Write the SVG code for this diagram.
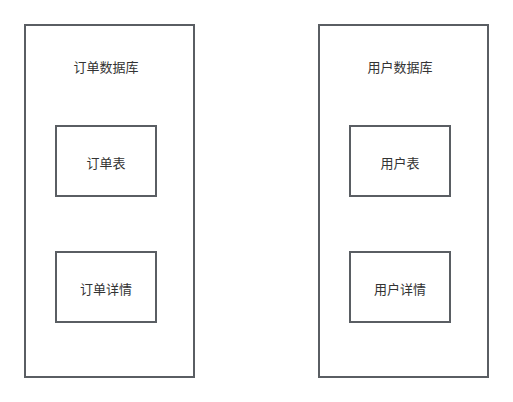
<svg xmlns="http://www.w3.org/2000/svg" width="513" height="402" viewBox="0 0 513 402">
<style>
.box{fill:#ffffff;stroke:#5a5e63;stroke-width:2}
.t{font-family:"Liberation Sans","Noto Sans CJK SC",sans-serif;font-size:13px;fill:#333333;text-anchor:middle}
</style>
<rect width="513" height="402" fill="#ffffff"/>
<g id="order-db">
<rect class="box" x="25" y="25" width="169" height="352"/>
<text class="t" x="106" y="72">订单数据库</text>
</g>
<g id="order-table">
<rect class="box" x="56" y="126" width="100" height="70"/>
<text class="t" x="106" y="168">订单表</text>
</g>
<g id="order-detail">
<rect class="box" x="56" y="252" width="100" height="70"/>
<text class="t" x="106" y="294">订单详情</text>
</g>
<g id="user-db">
<rect class="box" x="319" y="25" width="169" height="352"/>
<text class="t" x="400" y="72">用户数据库</text>
</g>
<g id="user-table">
<rect class="box" x="350" y="126" width="100" height="70"/>
<text class="t" x="400" y="168">用户表</text>
</g>
<g id="user-detail">
<rect class="box" x="350" y="252" width="100" height="70"/>
<text class="t" x="400" y="294">用户详情</text>
</g>
<g id="connectors"></g>
</svg>
